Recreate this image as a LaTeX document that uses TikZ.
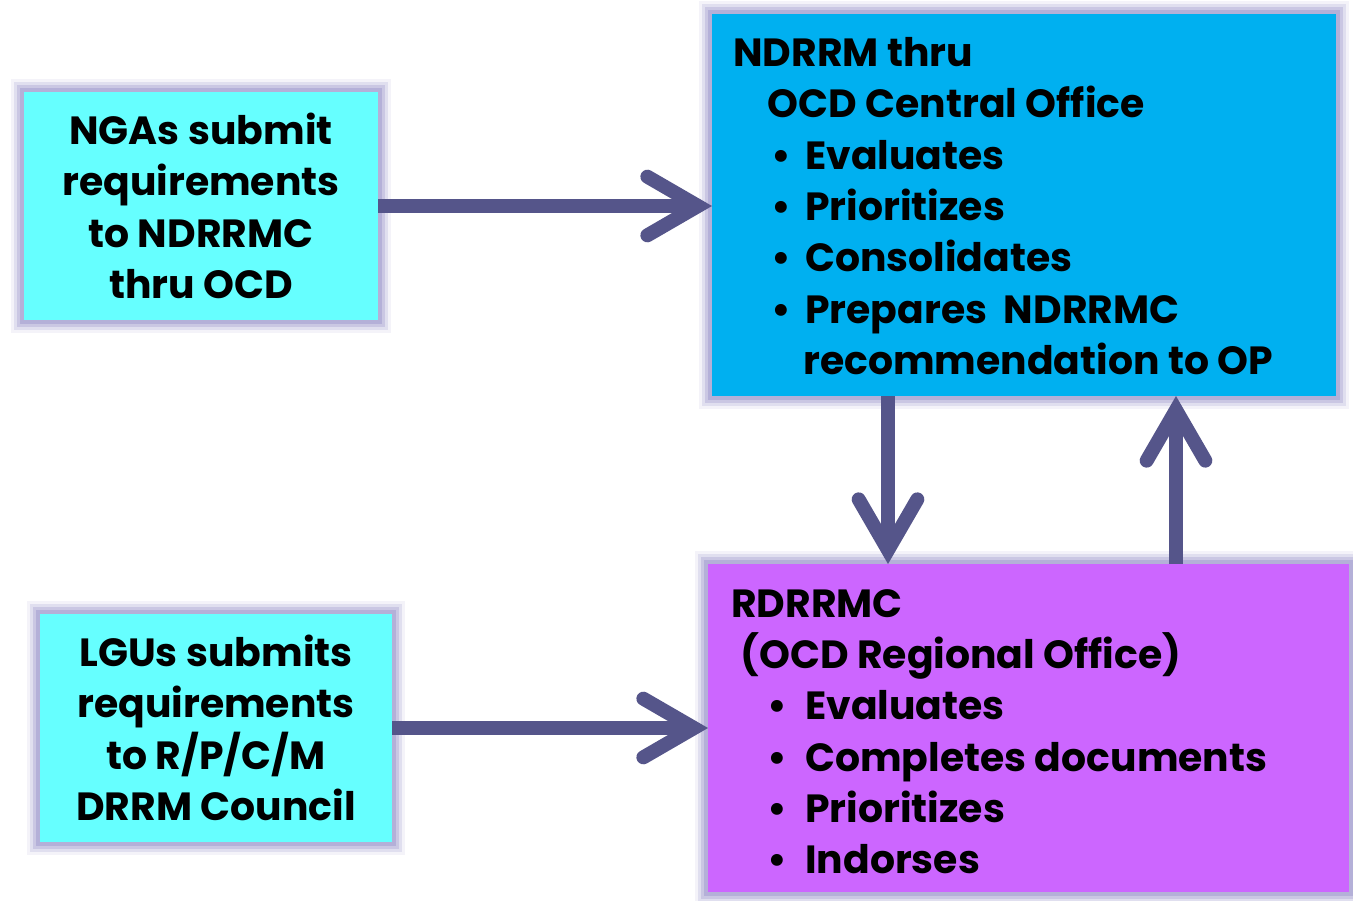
\documentclass[tikz,border=0pt]{standalone}
\usepackage{fontspec}
\setmainfont{Poppins}
\usetikzlibrary{fit,arrows.meta}
\definecolor{cyanbox}{HTML}{66FFFF}
\definecolor{bluebox}{HTML}{00B0F0}
\definecolor{purplebox}{HTML}{CC66FF}
\definecolor{arrowc}{HTML}{55558A}
\definecolor{glowc}{HTML}{B4B0D8}
\tikzset{
  boxbase/.style={inner sep=0pt, outer sep=0pt},
  txt/.style={font=\fontsize{29.5}{38.5}\selectfont\bfseries, inner sep=0pt, text=black},
  arr/.style={draw=arrowc, line width=10.5pt, -{Straight Barb[length=38pt,width=44pt,line cap=round,line join=miter]}},
}
\newcommand{\glowbox}[2]{%
  \draw[glowc, opacity=0.15, line width=20pt] (#1.north west) rectangle (#1.south east);
  \draw[glowc, opacity=0.3, line width=15pt] (#1.north west) rectangle (#1.south east);
  \draw[glowc, opacity=0.5, line width=10pt] (#1.north west) rectangle (#1.south east);
  \draw[glowc, line width=6pt] (#1.north west) rectangle (#1.south east);
  \fill[#2] (#1.north west) rectangle (#1.south east);
}
\newcommand{\bl}[2]{\hspace*{#1}\makebox[0pt]{\textbullet}\hspace*{#2}}
\begin{document}
\begin{tikzpicture}[x=0.75pt,y=-0.75pt]
\useasboundingbox (0,0) rectangle (1353,900);
\node[boxbase, fit={(24,92)(378,320)}] (nga) {};
\node[boxbase, fit={(40,614)(392,842)}] (lgu) {};
\node[boxbase, fit={(712,14)(1336,396)}] (ndr) {};
\node[boxbase, fit={(708,564)(1349,892)}] (rdr) {};
\glowbox{nga}{cyanbox}
\glowbox{lgu}{cyanbox}
\glowbox{ndr}{bluebox}
\glowbox{rdr}{purplebox}
\node[txt, align=center] (ngat) at (201,206) {NGAs submit\\requirements\\to NDRRMC\\thru OCD};
\node[txt, align=center] (lgut) at (216,728) {LGUs submits\\requirements\\to R/P/C/M\\DRRM Council};
\node[txt, align=left, anchor=north west] (ndrt) at (733,37) {NDRRM thru\\\hspace*{26pt}OCD Central Office\\\bl{36pt}{18pt}Evaluates\\\bl{36pt}{18pt}Prioritizes\\\bl{36pt}{18pt}Consolidates\\\bl{36pt}{18pt}Prepares~ NDRRMC\\\hspace*{52.5pt}recommendation to OP};
\node[txt, align=left, anchor=north west] (rdrt) at (731,589) {RDRRMC\\\hspace*{7pt}(OCD Regional Office)\\\bl{34.5pt}{21pt}Evaluates\\\bl{34.5pt}{21pt}Completes documents\\\bl{34.5pt}{21pt}Prioritizes\\\bl{34.5pt}{21pt}Indorses};
\draw[arr] (nga.east) -- (nga.east -| ndr.west);
\draw[arr] (lgu.east) -- (lgu.east -| rdr.west);
\draw[arr] (ndr.south -| 888,0) -- (rdr.north -| 888,0);
\draw[arr] (rdr.north -| 1176,0) -- (ndr.south -| 1176,0);
\end{tikzpicture}
\end{document}
